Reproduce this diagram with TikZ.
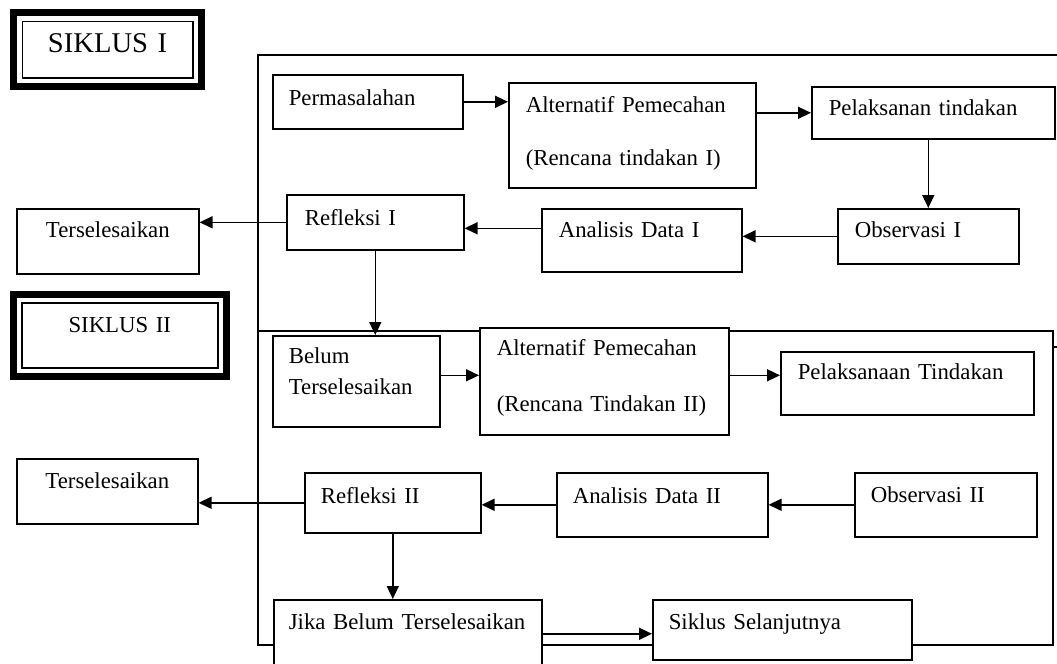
\documentclass[tikz,border=0pt]{standalone}
\usepackage{fontspec}
\setmainfont{Liberation Serif}
\usetikzlibrary{arrows.meta}
\tikzset{
  kotak/.style n args={4}{draw, fill=white, anchor=north west, inner sep=0pt,
    align=left, text width=#2, text height=#3, text depth=#4,
    execute at begin node={\leftskip=#1}},
  tengah/.style n args={3}{draw, fill=white, anchor=north west, inner sep=0pt,
    align=center, text width=#1, text height=#2, text depth=#3},
  panah/.style={-{Triangle[length=6.5pt,width=6pt]}},
}
\begin{document}
\begin{tikzpicture}[x=0.5pt,y=-0.5pt,line width=0.8pt,font=\fontsize{11.4}{14}\selectfont]
\useasboundingbox (0,0) rectangle (1057,664);
\clip (0,0) rectangle (1057,664);
% bingkai siklus
\draw (1057,55) -- (258,55) -- (258,645) -- (1053,645) -- (1053,331) -- (258,331);
\draw (1053,347) -- (1057,347);
\node[tengah={85.25pt}{15.75pt}{12.5pt},font=\fontsize{14.3}{17}\selectfont] (sik1) at (21.5,20.5) {SIKLUS I};
\draw[line width=3.5pt] ([xshift=-4pt,yshift=4pt]sik1.north west) rectangle ([xshift=4pt,yshift=-4pt]sik1.south east);
\node[tengah={98pt}{15pt}{17.5pt}] (sik2) at (21,302) {SIKLUS II};
\draw[line width=3.5pt] ([xshift=-4pt,yshift=4pt]sik2.north west) rectangle ([xshift=4pt,yshift=-4pt]sik2.south east);
% siklus I
\node[kotak={8pt}{95pt}{15.5pt}{11.5pt}] (perm) at (272,74) {Permasalahan};
\node[kotak={8.5pt}{123.5pt}{15pt}{37.5pt}] (alt1) at (508,82) {Alternatif Pemecahan\\[12.5pt](Rencana tindakan I)};
\node[kotak={8.5pt}{121.5pt}{14.5pt}{11.5pt}] (pel1) at (811,86) {Pelaksanan tindakan};
\node[kotak={8.5pt}{90.5pt}{14.5pt}{13pt}] (obs1) at (837,208) {Observasi I};
\node[kotak={8.5pt}{100pt}{14.5pt}{17pt}] (ana1) at (541,208) {Analisis Data I};
\node[kotak={9pt}{88.5pt}{15.5pt}{12pt}] (ref1) at (286,194) {Refleksi I};
\node[tengah={91pt}{14.5pt}{18pt}] (ters1) at (16,208) {Terselesaikan};
% siklus II
\node[kotak={8pt}{83.5pt}{14pt}{31.5pt}] (belum) at (272,335) {Belum\\[1.5pt]Terselesaikan};
\node[kotak={8.5pt}{124.5pt}{14pt}{39.5pt}] (alt2) at (479,327) {Alternatif Pemecahan\\[14pt](Rencana Tindakan II)};
\node[kotak={8.5pt}{126.5pt}{14pt}{17.5pt}] (pel2) at (780,351) {Pelaksanaan Tindakan};
\node[kotak={8pt}{91pt}{15pt}{17pt}] (obs2) at (854,472) {Observasi II};
\node[kotak={8pt}{105.5pt}{15.5pt}{16.5pt}] (ana2) at (556,472) {Analisis Data II};
\node[kotak={8pt}{88pt}{15.5pt}{14.5pt}] (ref2) at (304,472) {Refleksi II};
\node[tengah={90.5pt}{15pt}{17.5pt}] (ters2) at (16,458) {Terselesaikan};
\node[kotak={7.5pt}{134pt}{15pt}{30.5pt}] (jika) at (273,599) {Jika Belum Terselesaikan};
\node[kotak={8pt}{129.5pt}{15pt}{15pt}] (siklus) at (652,599) {Siklus Selanjutnya};
% panah
\draw[panah] (perm.east) -- (perm.east -| alt1.west);
\draw[panah] (alt1.east |- pel1.west) -- (pel1.west);
\draw[panah] (obs1.north |- pel1.south) -- (obs1.north);
\draw[panah] (obs1.west) -- (obs1.west -| ana1.east);
\draw[panah] ([yshift=6pt]ana1.west) -- ([yshift=6pt]ana1.west -| ref1.east);
\draw[panah] (ref1.west) -- (ref1.west -| ters1.east);
\draw[panah] (ref1.south) -- (ref1.south |- belum.north);
\draw[panah] ([yshift=3pt]belum.east) -- ([yshift=3pt]belum.east -| alt2.west);
\draw[panah] ([yshift=3pt]alt2.east) -- ([yshift=3pt]alt2.east -| pel2.west);
\draw[panah] (obs2.west) -- (obs2.west -| ana2.east);
\draw[panah] (ana2.west) -- (ana2.west -| ref2.east);
\draw[panah] (ref2.west) -- (ref2.west -| ters2.east);
\draw[panah] (ref2.south) -- (ref2.south |- jika.north);
\draw[panah] ([yshift=-2pt]siklus.west -| jika.east) -- ([yshift=-2pt]siklus.west);
\end{tikzpicture}
\end{document}
